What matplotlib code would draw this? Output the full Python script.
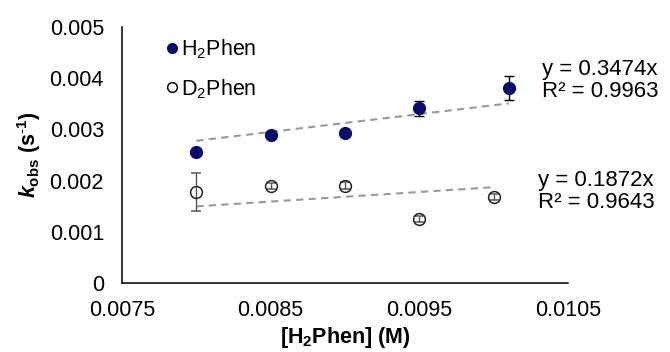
import matplotlib

matplotlib.use("Agg")
import matplotlib.pyplot as plt  # noqa: E402
from matplotlib.lines import Line2D  # noqa: E402
import numpy as np  # noqa: E402

# concentrations of H2Phen (M)
conc = [0.0080, 0.0085, 0.0090, 0.0095, 0.0101]
conc_d = [0.0080, 0.0085, 0.0090, 0.0095, 0.0100]

# observed rate constants (s^-1) with error bars
k_h = [0.00256, 0.00289, 0.00294, 0.00341, 0.00381]
err_h = [0.00004, 0.00004, 0.00004, 0.00014, 0.00024]
k_d = [0.00178, 0.00190, 0.00190, 0.00125, 0.00168]
err_d = [0.00037, 0.00006, 0.00007, 0.00006, 0.00006]

# linear fits through the origin (as reported)
slope_h, r2_h = 0.3474, 0.9963
slope_d, r2_d = 0.1872, 0.9643

plt.rcParams["font.family"] = ["Liberation Sans", "DejaVu Sans"]
plt.rcParams["mathtext.fontset"] = "custom"
plt.rcParams["mathtext.rm"] = "Liberation Sans"
plt.rcParams["mathtext.it"] = "Liberation Sans:italic:bold"
plt.rcParams["mathtext.bf"] = "Liberation Sans:bold"

fig = plt.figure(figsize=(6.7, 3.52), dpi=100)
ax = fig.add_axes([0.182, 0.196, 0.666, 0.727])

navy = "#0b0b6b"

# trendlines
xh = np.array([conc[0], conc[-1]])
xd = np.array([conc_d[0], conc_d[-1]])
ax.plot(xh, slope_h * xh, ls=(0, (3.5, 2.5)), color="#999999", lw=1.5, zorder=1)
ax.plot(xd, slope_d * xd, ls=(0, (3.5, 2.5)), color="#999999", lw=1.5, zorder=1)

ax.errorbar(conc, k_h, yerr=err_h, fmt="o", color=navy, ms=8.5,
            ecolor="black", elinewidth=1, capsize=3.5, capthick=1, zorder=3)
ax.errorbar(conc_d, k_d, yerr=err_d, fmt="o", mfc="none", mec="#222222",
            mew=1.1, ms=8.5, ecolor="#555555", elinewidth=1, capsize=3.5,
            capthick=1, zorder=3)

eq_kw = dict(fontsize=16, ha="left", va="center", linespacing=1.1, clip_on=False)
ax.text(0.010324, 0.003955, f"y = {slope_h}x\nR² = {r2_h}", **eq_kw)
ax.text(0.010298, 0.001787, f"y = {slope_d}x\nR² = {r2_d}", **eq_kw)

ax.set_xlim(0.0075, 0.0105)
ax.set_ylim(0, 0.005)
ax.set_xticks([0.0075, 0.0085, 0.0095, 0.0105])
ax.set_xticklabels(["0.0075", "0.0085", "0.0095", "0.0105"])
ax.set_yticks([0, 0.001, 0.002, 0.003, 0.004, 0.005])
ax.set_yticklabels(["0", "0.001", "0.002", "0.003", "0.004", "0.005"])
ax.tick_params(length=0, labelsize=15.5)
ax.tick_params(axis="x", pad=12)
ax.tick_params(axis="y", pad=13)

for s in ["top", "right"]:
    ax.spines[s].set_visible(False)
for s in ["left", "bottom"]:
    ax.spines[s].set_linewidth(1.1)

ax.set_xlabel(r"[H$_\mathbf{2}$Phen] (M)", fontsize=15.5, fontweight="bold",
              labelpad=3)
ax.set_ylabel(r"$k_\mathbf{obs}$ (s$^\mathbf{\text{-}1}$)", fontsize=15.5,
              fontweight="bold", labelpad=5)

handles = [
    Line2D([], [], ls="none", marker="o", color=navy, ms=7),
    Line2D([], [], ls="none", marker="o", mfc="none", mec="black", mew=1.1, ms=7),
]
ax.legend(handles, ["H$_2$Phen", "D$_2$Phen"], loc="upper left",
          bbox_to_anchor=(0.057, 1.036), frameon=False, fontsize=15.5,
          handlelength=0.5, handletextpad=0.15, labelspacing=0.75)

fig.savefig("out.png", dpi=100, facecolor="white")
